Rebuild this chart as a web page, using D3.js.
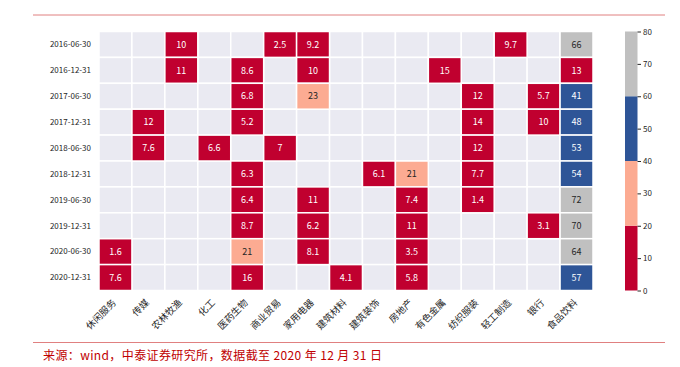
<!DOCTYPE html>
<html>
<head>
<meta charset="utf-8">
<script src="https://cdn.jsdelivr.net/npm/d3@7"></script>
<style>
  body { margin: 0; background: #fff; }
  svg { display: block; font-family: "Noto Sans CJK SC", "DejaVu Sans", sans-serif; }
</style>
</head>
<body>
<svg id="chart" width="680" height="367"></svg>
<script>
var dates = ['2016-06-30', '2016-12-31', '2017-06-30', '2017-12-31', '2018-06-30',
	'2018-12-31', '2019-06-30', '2019-12-31', '2020-06-30', '2020-12-31'];
var industries = ['休闲服务', '传媒', '农林牧渔', '化工', '医药生物', '商业贸易', '家用电器', '建筑材料',
	'建筑装饰', '房地产', '有色金属', '纺织服装', '轻工制造', '银行', '食品饮料'];

// one row per date: [industry, weight]
var holdings = [
	[['农林牧渔', 10], ['商业贸易', 2.5], ['家用电器', 9.2], ['轻工制造', 9.7], ['食品饮料', 66]],
	[['农林牧渔', 11], ['医药生物', 8.6], ['家用电器', 10], ['有色金属', 15], ['食品饮料', 13]],
	[['医药生物', 6.8], ['家用电器', 23], ['纺织服装', 12], ['银行', 5.7], ['食品饮料', 41]],
	[['传媒', 12], ['医药生物', 5.2], ['纺织服装', 14], ['银行', 10], ['食品饮料', 48]],
	[['传媒', 7.6], ['化工', 6.6], ['商业贸易', 7], ['纺织服装', 12], ['食品饮料', 53]],
	[['医药生物', 6.3], ['建筑装饰', 6.1], ['房地产', 21], ['纺织服装', 7.7], ['食品饮料', 54]],
	[['医药生物', 6.4], ['家用电器', 11], ['房地产', 7.4], ['纺织服装', 1.4], ['食品饮料', 72]],
	[['医药生物', 8.7], ['家用电器', 6.2], ['房地产', 11], ['银行', 3.1], ['食品饮料', 70]],
	[['休闲服务', 1.6], ['医药生物', 21], ['家用电器', 8.1], ['房地产', 3.5], ['食品饮料', 64]],
	[['休闲服务', 7.6], ['医药生物', 16], ['建筑材料', 4.1], ['房地产', 5.8], ['食品饮料', 57]]
];

var colorBreaks = [20, 40, 60];
var colorRange = ['#c0002f', '#fcab92', '#2e5597', '#c0c0c0'];
var colorTicks = [0, 10, 20, 30, 40, 50, 60, 70, 80];
var sourceText = '来源：wind，中泰证券研究所，数据截至 2020 年 12 月 31 日';

var svg = d3.select('#chart');

var x = d3.scaleBand().domain(industries).range([99, 593]);
var y = d3.scaleBand().domain(dates).range([31.5, 290.5]);
var color = d3.scaleThreshold().domain(colorBreaks).range(colorRange);

// flatten into cells
var cells = [];
dates.forEach(function(d, i) {
	holdings[i].forEach(function(h) {
		cells.push({ date: d, industry: h[0], value: h[1] });
	});
});

// empty grid background
var bg = [];
dates.forEach(function(d) {
	industries.forEach(function(ind) { bg.push({ date: d, industry: ind }); });
});

svg.append('g').selectAll('rect')
	.data(bg).enter().append('rect')
	.attr('x', function(d) { return x(d.industry); })
	.attr('y', function(d) { return y(d.date); })
	.attr('width', x.bandwidth())
	.attr('height', y.bandwidth())
	.attr('fill', '#eaeaf2')
	.attr('stroke', '#fff')
	.attr('stroke-width', 1.5);

var cell = svg.append('g').selectAll('g')
	.data(cells).enter().append('g')
	.attr('transform', function(d) { return 'translate(' + x(d.industry) + ',' + y(d.date) + ')'; });

cell.append('rect')
	.attr('width', x.bandwidth())
	.attr('height', y.bandwidth())
	.attr('fill', function(d) { return color(d.value); })
	.attr('stroke', '#fff')
	.attr('stroke-width', 1.5);

cell.append('text')
	.attr('x', x.bandwidth() / 2)
	.attr('y', y.bandwidth() / 2)
	.attr('dy', '0.36em')
	.attr('text-anchor', 'middle')
	.attr('font-size', 9)
	.attr('fill', function(d) { return (d.value >= 20 && d.value < 40) || d.value >= 60 ? '#262626' : '#fff'; })
	.text(function(d) { return d.value; });

// row labels
svg.append('g').selectAll('text')
	.data(dates).enter().append('text')
	.attr('x', 91)
	.attr('y', function(d) { return y(d) + y.bandwidth() / 2; })
	.attr('dy', '0.35em')
	.attr('text-anchor', 'end')
	.attr('font-size', 8)
	.attr('fill', '#262626')
	.text(function(d) { return d; });

// column labels, rotated
svg.append('g').selectAll('text')
	.data(industries).enter().append('text')
	.attr('transform', function(d) { return 'translate(' + (x(d) + x.bandwidth() / 2 - 1) + ',301) rotate(-45)'; })
	.attr('text-anchor', 'end')
	.attr('dy', '0.35em')
	.attr('font-size', 9.5)
	.attr('fill', '#262626')
	.text(function(d) { return d; });

// colorbar
var cbY = d3.scaleLinear().domain([0, 80]).range([290.5, 31.5]);
var cbSteps = [0].concat(colorBreaks).concat([80]);
var cb = svg.append('g');
cb.selectAll('rect')
	.data(d3.range(cbSteps.length - 1)).enter().append('rect')
	.attr('x', 625)
	.attr('width', 12.5)
	.attr('y', function(i) { return cbY(cbSteps[i + 1]); })
	.attr('height', function(i) { return cbY(cbSteps[i]) - cbY(cbSteps[i + 1]); })
	.attr('fill', function(i) { return colorRange[i]; });

var cbAxis = cb.append('g')
	.attr('transform', 'translate(637.5,0)')
	.call(d3.axisRight(cbY).tickValues(colorTicks).tickSize(3.5).tickPadding(2));
cbAxis.select('.domain').remove();
cbAxis.selectAll('line').attr('stroke', '#262626');
cbAxis.selectAll('text').attr('font-size', 8).attr('fill', '#262626').attr('font-family', '"Noto Sans CJK SC", sans-serif');

// frame lines and source
svg.append('line').attr('x1', 33).attr('x2', 665).attr('y1', 15).attr('y2', 15)
	.attr('stroke', '#e08080').attr('stroke-width', 1);
svg.append('line').attr('x1', 33).attr('x2', 665).attr('y1', 342.5).attr('y2', 342.5)
	.attr('stroke', '#e08080').attr('stroke-width', 1);

svg.append('text')
	.attr('x', 43)
	.attr('y', 356)
	.attr('dy', '0.35em')
	.attr('font-size', 12)
	.attr('fill', '#c00000')
	.attr('textLength', 339)
	.attr('lengthAdjust', 'spacing')
	.text(sourceText);
</script>
</body>
</html>
